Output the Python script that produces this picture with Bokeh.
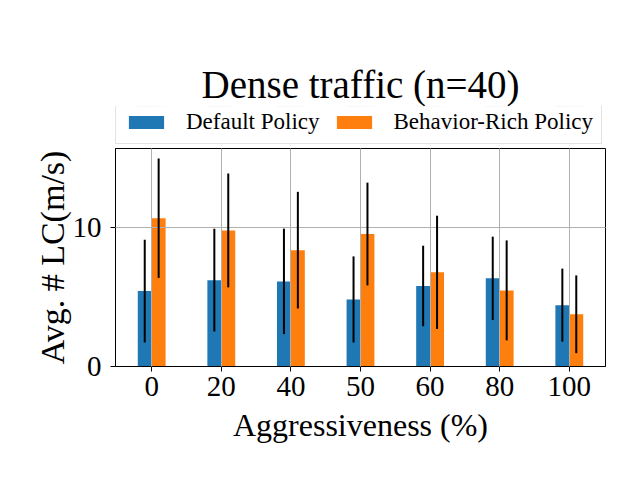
from bokeh.plotting import figure
from bokeh.layouts import column
from bokeh.models import ColumnDataSource, Legend, LegendItem, FixedTicker, Range1d
from bokeh.embed import file_html
from bokeh.resources import INLINE

categories = ["0", "20", "40", "50", "60", "80", "100"]
default_mean = [5.43, 6.22, 6.13, 4.83, 5.80, 6.35, 4.42]
default_err = [3.70, 3.70, 3.80, 3.10, 2.90, 3.00, 2.63]
behavior_mean = [10.68, 9.80, 8.38, 9.54, 6.78, 5.48, 3.76]
behavior_err = [4.30, 4.10, 4.20, 3.70, 4.08, 3.60, 2.80]
series_names = ["Default Policy", "Behavior-Rich Policy"]
y_ticks = [0, 10]

FONT = "Liberation Serif"
BLUE = "#1f77b4"
ORANGE = "#ff7f0e"
W = 0.2

idx = list(range(len(categories)))
src_d = ColumnDataSource(dict(
    x=[i - W / 2 for i in idx], top=default_mean,
    lo=[m - e for m, e in zip(default_mean, default_err)],
    hi=[m + e for m, e in zip(default_mean, default_err)]))
src_b = ColumnDataSource(dict(
    x=[i + W / 2 for i in idx], top=behavior_mean,
    lo=[m - e for m, e in zip(behavior_mean, behavior_err)],
    hi=[m + e for m, e in zip(behavior_mean, behavior_err)]))

# ---- header figure: title + legend (bars drawn out of view, only for the legend) ----
top = figure(width=640, height=147, output_backend="svg", toolbar_location=None,
             x_axis_type=None, y_axis_type=None,
             x_range=Range1d(-0.52, len(idx) - 1 + 0.52), y_range=Range1d(-3, -2),
             min_border_left=115, min_border_right=35, min_border_top=106,
             min_border_bottom=0)
top.outline_line_color = None
top.background_fill_color = "white"
top.border_fill_color = "white"
top.title.text = "Dense traffic (n=40)"
top.title.text_font = FONT
top.title.text_font_size = "39px"
top.title.text_font_style = "normal"
top.title.align = "center"
top.title.text_color = "black"
top.title.standoff = 2

ld = top.vbar(x="x", top="top", width=W, bottom=0, source=src_d, fill_color=BLUE, line_color=None)
lb = top.vbar(x="x", top="top", width=W, bottom=0, source=src_b, fill_color=ORANGE, line_color=None)

legend = Legend(items=[LegendItem(label=series_names[0], renderers=[ld]),
                       LegendItem(label=series_names[1], renderers=[lb])],
                orientation="horizontal", location=(0, 3))
legend.label_text_font = FONT
legend.label_text_font_size = "23px"
legend.label_text_color = "black"
legend.glyph_width = 44
legend.glyph_height = 16
legend.label_standoff = 18
legend.spacing = 12
legend.padding = 8
legend.margin = 0
legend.border_line_color = "#c8c8c8"
legend.border_line_width = 1.5
legend.background_fill_alpha = 0.8
top.add_layout(legend, "center")

# ---- main figure ----
p = figure(width=640, height=333, output_backend="svg", toolbar_location=None,
           x_range=Range1d(-0.52, len(idx) - 1 + 0.52), y_range=Range1d(0, 15.7),
           min_border_left=115, min_border_right=35, min_border_top=1,
           min_border_bottom=114)
p.background_fill_color = "white"
p.border_fill_color = "white"
p.outline_line_color = "black"
p.outline_line_width = 1

p.vbar(x="x", top="top", width=W, bottom=0, source=src_d, fill_color=BLUE, line_color=None)
p.vbar(x="x", top="top", width=W, bottom=0, source=src_b, fill_color=ORANGE, line_color=None)
e1 = p.segment(x0="x", y0="lo", x1="x", y1="hi", source=src_d, line_color="black", line_width=2)
e2 = p.segment(x0="x", y0="lo", x1="x", y1="hi", source=src_b, line_color="black", line_width=2)
e1.level = "overlay"
e2.level = "overlay"

p.xaxis.ticker = FixedTicker(ticks=idx)
p.xaxis.major_label_overrides = {i: c for i, c in zip(idx, categories)}
p.yaxis.ticker = FixedTicker(ticks=y_ticks)

for ax in (p.xaxis, p.yaxis):
    ax.major_label_text_font = FONT
    ax.major_label_text_font_size = "29px"
    ax.major_label_text_color = "black"
    ax.axis_label_text_font = FONT
    ax.axis_label_text_font_style = "normal"
    ax.axis_label_text_color = "black"
    ax.axis_line_color = "black"
    ax.major_tick_line_color = "black"
    ax.major_tick_out = 5
    ax.major_tick_in = 0
    ax.minor_tick_line_color = None

p.xaxis.axis_label = "Aggressiveness (%)"
p.yaxis.axis_label = "Avg. # LC(m/s)"
p.xaxis.axis_label_text_font_size = "32px"
p.yaxis.axis_label_text_font_size = "34px"
p.xaxis.major_label_standoff = 5
p.yaxis.major_label_standoff = 9
p.xaxis.axis_label_standoff = 8
p.yaxis.axis_label_standoff = -1

p.grid.grid_line_color = "#b0b0b0"
p.grid.grid_line_width = 1
p.grid.level = "guide"
p.xgrid.ticker = FixedTicker(ticks=idx)
p.ygrid.ticker = FixedTicker(ticks=y_ticks)

layout = column(top, p, spacing=0)
open("out.html", "w").write(file_html(layout, INLINE))
